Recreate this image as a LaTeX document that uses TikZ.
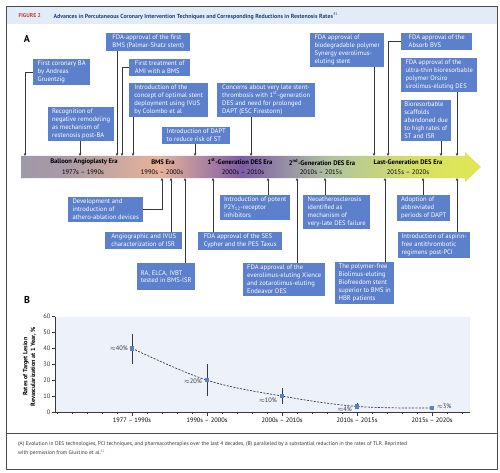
\documentclass[tikz,border=0pt]{standalone}
\usepackage{fontspec}
\setmainfont{PT Sans}
\usepackage{xcolor}
\usetikzlibrary{arrows.meta}

\definecolor{boxblue}{RGB}{92,128,204}
\definecolor{linegray}{RGB}{55,55,60}
\definecolor{headblue}{RGB}{226,236,248}
\definecolor{titleblue}{RGB}{28,62,140}
\definecolor{figred}{RGB}{210,60,45}
\definecolor{plotbg}{RGB}{237,241,250}
\definecolor{ptblue}{RGB}{88,128,200}

\newcommand{\evfont}{\fontsize{6.6}{7.9}\selectfont}
\newcommand{\erafont}{\fontsize{6.6}{7.6}\selectfont}
\newcommand{\axfont}{\fontsize{6.4}{7.4}\selectfont}

\pgfdeclarehorizontalshading{eraband}{100bp}{rgb(0bp)=(0.62,0.60,0.65); rgb(25bp)=(0.62,0.60,0.65); rgb(30bp)=(0.66,0.61,0.65); rgb(40bp)=(0.91,0.70,0.61); rgb(49bp)=(0.49,0.36,0.65); rgb(58.5bp)=(0.69,0.76,0.63); rgb(68bp)=(0.84,0.88,0.39); rgb(75bp)=(0.88,0.91,0.33); rgb(100bp)=(0.88,0.91,0.33)}

\begin{document}
\begin{tikzpicture}[x=1pt, y=-1pt,
    evbox/.style={fill=boxblue, text=white, font=\evfont, align=left,
      anchor=north west, inner xsep=2.5pt, inner ysep=2pt},
    conn/.style={draw=linegray, line width=0.6pt, -{Stealth[length=3pt, width=2.6pt]}},
    eraname/.style={font=\erafont\bfseries, text=black, inner sep=0pt},
    eradate/.style={font=\erafont, text=black, inner sep=0pt},
    axlbl/.style={font=\axfont, text=linegray, inner sep=0pt}]

    % Page, frame and header
    \fill[white] (0,0) rectangle (500,473);
    \useasboundingbox (0,0) rectangle (500,473);
    \fill[headblue] (6,7) rectangle (497,24);
    \draw[gray!60!black, line width=0.8pt] (6,6) rectangle (497,469);
    \draw[gray!60!black, line width=0.6pt] (6,433) -- (497,433);
    \node[anchor=west, font=\fontsize{5.6}{6}\selectfont\bfseries, text=figred] (figlbl) at (15,16) {FIGURE 2};
    \node[anchor=west, font=\fontsize{5.9}{6}\selectfont\bfseries, text=titleblue] (title) at (50,16)
      {Advances in Percutaneous Coronary Intervention Techniques and Corresponding Reductions in Restenosis Rates\textsuperscript{\color{boxblue}41}};
    \node[font=\fontsize{10}{10}\selectfont\bfseries] (lblA) at (27,39) {A};
    \node[font=\fontsize{10}{10}\selectfont\bfseries] (lblB) at (27,300) {B};

    % Era band
    \shade[shading=eraband] (21,156) -- (465,156) -- (465,152) -- (481,167) -- (465,182) -- (465,178) -- (21,178) -- cycle;
    \node[eraname] (era1) at (84,162) {Balloon Angioplasty Era};
    \node[eradate] (date1) at (83,172) {1977s -- 1990s};
    \node[eraname] (era2) at (163,162) {BMS Era};
    \node[eradate] (date2) at (162,172) {1990s -- 2000s};
    \node[eraname] (era3) at (240,162) {1\textsuperscript{st}-Generation DES Era};
    \node[eradate] (date3) at (243,172) {2000s -- 2010s};
    \node[eraname] (era4) at (322,162) {2\textsuperscript{nd}-Generation DES Era};
    \node[eradate] (date4) at (321,172) {2010s -- 2015s};
    \node[eraname] (era5) at (408,162) {Last-Generation DES Era};
    \node[eradate] (date5) at (408,172) {2015s -- 2020s};

    % Arrow ends on the band (top)
    \coordinate (U1a) at (25,156);   % first BA
    \coordinate (U2a) at (80,156);   % negative remodeling
    \coordinate (U3a) at (117,156);  % first BMS
    \coordinate (U4a) at (122,156);  % AMI
    \coordinate (U5a) at (133,156);  % IVUS
    \coordinate (U6a) at (195,156);  % DAPT
    \coordinate (U7a) at (251,156);  % late ST
    \coordinate (U8a) at (374,156);  % Synergy
    \coordinate (U9a) at (388,156);  % Absorb
    \coordinate (U10a) at (457,156); % Orsiro
    \coordinate (U11a) at (441,156); % BRS abandoned

    % Arrow ends on the band (bottom)
    \coordinate (L1a) at (162,178);  % athero-ablation
    \coordinate (L2a) at (171,178);  % ISR
    \coordinate (L3a) at (185,178);  % RA, ELCA, IVBT
    \coordinate (L4a) at (268,178);  % P2Y12
    \coordinate (L5a) at (213,178);  % SES/PES
    \coordinate (L6a) at (297,178);  % Xience/Endeavor
    \coordinate (L7a) at (325,178);  % neoatherosclerosis
    \coordinate (L8a) at (385,178);  % Biofreedom
    \coordinate (L9a) at (423,178);  % short DAPT
    \coordinate (L10a) at (457,178); % aspirin-free

    % Boxes above the band
    \node[evbox, minimum width=57pt] (U1) at (33,59) {First coronary BA\\by Andreas\\Gruentzig};
    \node[evbox, minimum width=66pt] (U2) at (48,107) {Recognition of\\negative remodeling\\as mechanism of\\restenosis post-BA};
    \node[evbox, minimum width=84pt] (U3) at (106,33) {FDA-approval of the first\\BMS (Palmar-Shatz stent)};
    \node[evbox, minimum width=61pt] (U4) at (129,59) {First treatment of\\AMI with a BMS};
    \node[evbox, minimum width=79pt] (U5) at (129,83) {Introduction of the\\concept of optimal stent\\deployment using IVUS\\by Colombo et al};
    \node[evbox, minimum width=68pt] (U6) at (162,127) {Introduction of DAPT\\to reduce risk of ST};
    \node[evbox, minimum width=98pt] (U7) at (217,83) {Concerns about very late stent-\\thrombosis with 1\textsuperscript{st}-generation\\DES and need for prolonged\\DAPT (ESC Firestorm)};
    \node[evbox, minimum width=74pt] (U8) at (310,33) {FDA approval of\\biodegradable polymer\\Synergy everolimus-\\eluting stent};
    \node[evbox, minimum width=71pt] (U9) at (401,33) {FDA approval of the\\Absorb BVS};
    \node[evbox, minimum width=76pt] (U10) at (401,58) {FDA approval of the\\ultra-thin bioresorbable\\polymer Orsiro\\sirolimus-eluting DES};
    \node[evbox, minimum width=50pt] (U11) at (401,100) {Bioresorbable\\scaffolds\\abandoned due\\to high rates of\\ST and ISR};

    % Boxes below the band
    \node[evbox, minimum width=75pt] (L1) at (68,197) {Development and\\introduction of\\athero-ablation devices};
    \node[evbox, minimum width=77pt] (L2) at (105,232) {Angiographic and IVUS\\characterization of ISR};
    \node[evbox, minimum width=58pt, minimum height=27pt] (L3) at (137,263) {RA, ELCA, IVBT\\tested in BMS-ISR};
    \node[evbox, minimum width=70pt] (L4) at (220,195) {Introduction of potent\\P2Y\textsubscript{12}-receptor\\inhibitors};
    \node[evbox, minimum width=84pt] (L5) at (198,232) {FDA approval of the SES\\Cypher and the PES Taxus};
    \node[evbox, minimum width=82pt] (L6) at (243,263) {FDA approval of the\\everolimus-eluting Xience\\and zotarolimus-eluting\\Endeavor DES};
    \node[evbox, minimum width=67pt] (L7) at (303,195) {Neoatherosclerosis\\identified as\\mechanism of\\very-late DES failure};
    \node[evbox, minimum width=59pt] (L8) at (335,262) {The polymer-free\\Biolimus-eluting\\Biofreedom stent\\superior to BMS in\\HBR patients};
    \node[evbox, minimum width=53pt] (L9) at (397,195) {Adoption of\\abbreviated\\periods of DAPT};
    \node[evbox, minimum width=72pt] (L10) at (398,232) {Introduction of aspirin-\\free antithrombotic\\regimens post-PCI};

    % Connectors to the band
    \draw[conn] (U1.west) -| (U1a);
    \draw[conn] (U2.south -| U2a) -- (U2a);
    \draw[conn] (U3.south -| U3a) -- (U3a);
    \draw[conn] (U4.west) -| (U4a);
    \draw[conn] (U5.south -| U5a) -- (U5a);
    \draw[conn] (U6.south -| U6a) -- (U6a);
    \draw[conn] (U7.south -| U7a) -- (U7a);
    \draw[conn] (U8.south -| U8a) -- (U8a);
    \draw[conn] (U9.west) -| (U9a);
    \draw[conn] (U10.south -| U10a) -- (U10a);
    \draw[conn] (U11.south -| U11a) -- (U11a);
    \draw[conn] (L1.east) -| (L1a);
    \draw[conn] (L2.north -| L2a) -- (L2a);
    \draw[conn] (L3.north -| L3a) -- (L3a);
    \draw[conn] (L4.north -| L4a) -- (L4a);
    \draw[conn] (L5.north -| L5a) -- (L5a);
    \draw[conn] (L6.north -| L6a) -- (L6a);
    \draw[conn] (L7.north -| L7a) -- (L7a);
    \draw[conn] (L8.north -| L8a) -- (L8a);
    \draw[conn] (L9.north -| L9a) -- (L9a);
    \draw[conn] (L10.north -| L10a) -- (L10a);

    % TLR plot
    \begin{scope}[shift={(0,412)}, y=1.5917pt]
      \fill[plotbg] (55,0) rectangle (470,60);
      \draw[linegray, line width=0.6pt] (55,60) -- (55,0) -- (470,0);
      \foreach \v in {0,10,...,60} {
        \draw[linegray, line width=0.5pt] (52,\v) -- (55,\v);
        \node[axlbl, anchor=east] at (50.5,\v) {\v};
      }
      \foreach \x in {57,72,...,462}
        \draw[linegray, line width=0.4pt] (\x,0) -- (\x,-1.2);
      \foreach \x/\lbl in {132/1977 -- 1990s, 207/1990s -- 2000s, 282/2000s -- 2010s, 357/2010s -- 2015s, 432/2015s -- 2020s} {
        \draw[linegray, line width=0.5pt] (\x,0) -- (\x,-2.2);
        \node[axlbl, text=black] at (\x,-5.2) {\lbl};
      }
      \node[rotate=90, font=\fontsize{6.2}{7.8}\selectfont\bfseries, align=center, inner sep=0pt] (ytitle) at (29.5,28.5)
        {Rates of Target Lesion\\Revascularization at 1 Year, \%};

      % Trend line, error bars and points
      \draw[linegray, line width=0.7pt, dash pattern=on 2pt off 1.4pt] plot[smooth, tension=0.6]
        coordinates {(132,40) (207,20) (282,10) (357,3.5) (432,2.5)};
      \foreach \x/\v/\lo/\hi in {132/40/30/49, 207/20/10/30, 282/10/5/15, 357/3.5/1.8/5.5, 432/2.5/1/4} {
        \draw[linegray, line width=0.9pt] (\x,\lo) -- (\x,\hi);
        \fill[ptblue] (\x,\v) ++(-2.2pt,-2.2pt) rectangle ++(4.4pt,4.4pt);
      }
      \node[axlbl, anchor=east] (v1) at (128,40) {$\approx$40\%};
      \node[axlbl, anchor=east] (v2) at (202,19) {$\approx$20\%};
      \node[axlbl, anchor=east] (v3) at (277,7.5) {$\approx$10\%};
      \node[axlbl, anchor=east] (v4) at (352,1.9) {$\approx$4\%};
      \node[axlbl, anchor=west] (v5) at (437,3.8) {$\approx$3\%};
    \end{scope}

    % Caption
    \node[anchor=north west, font=\fontsize{5.4}{9}\selectfont, text=linegray, align=left, inner sep=0pt] (capt) at (18,441)
      {(A) Evolution in DES technologies, PCI techniques, and pharmacotherapies over the last 4 decades, (B) paralleled by a substantial reduction in the rates of TLR. Reprinted\\with permission from Giustino et al.\textsuperscript{\color{boxblue}41}};

\end{tikzpicture}
\end{document}
